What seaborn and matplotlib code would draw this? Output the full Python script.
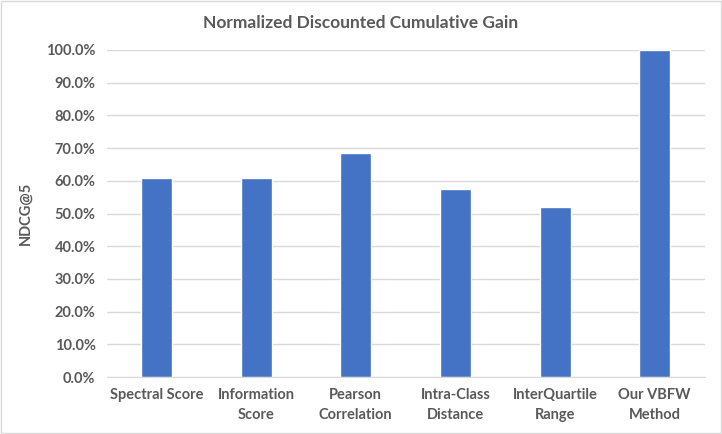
import matplotlib
matplotlib.use("Agg")
import matplotlib.pyplot as plt
import matplotlib.ticker as mticker
import seaborn as sns
import pandas as pd
from matplotlib.patches import Rectangle

methods = ["Spectral Score", "Information\nScore", "Pearson\nCorrelation",
           "Intra-Class\nDistance", "InterQuartile\nRange", "Our VBFW\nMethod"]
ndcg = [0.610, 0.610, 0.685, 0.575, 0.520, 1.000]

df = pd.DataFrame({"method": methods, "ndcg": ndcg})

sns.set_style("white")
plt.rcParams["font.family"] = ["Lato", "DejaVu Sans"]

fig = plt.figure(figsize=(7.22, 4.34), dpi=100)
ax = fig.add_axes([0.1478, 0.1313, 0.828, 0.7535])

sns.barplot(data=df, x="method", y="ndcg", color="#4472C4", width=0.31,
            saturation=1, ax=ax)

ax.set_ylim(0, 1.0)
ax.yaxis.set_major_locator(mticker.MultipleLocator(0.1))
ax.yaxis.set_major_formatter(mticker.PercentFormatter(1.0, decimals=1))
ax.grid(axis="y", color="#d9d9d9", linewidth=1)
ax.set_axisbelow(True)
for side in ["left", "right", "top"]:
    ax.spines[side].set_visible(False)
ax.spines["bottom"].set_color("#d9d9d9")
ax.tick_params(axis="both", length=0, labelsize=10.5, labelcolor="#595959", pad=8)
for lbl in ax.get_xticklabels():
    lbl.set_fontweight("bold")
    lbl.set_multialignment("center")
    lbl.set_linespacing(1.55)
for lbl in ax.get_yticklabels():
    lbl.set_fontweight("bold")

ax.set_xlabel("")
ax.set_ylabel("NDCG@5", fontsize=10.5, fontweight="bold", color="#595959", labelpad=10)
fig.suptitle("Normalized Discounted Cumulative Gain", x=0.5, y=0.965,
             fontsize=12.5, fontweight="bold", color="#595959")

# thin chart border like the original
fig.patches.append(Rectangle((0.002, 0.003), 0.996, 0.994, transform=fig.transFigure,
                             fill=False, edgecolor="#d9d9d9", linewidth=1))

fig.savefig("out.png", dpi=100)
